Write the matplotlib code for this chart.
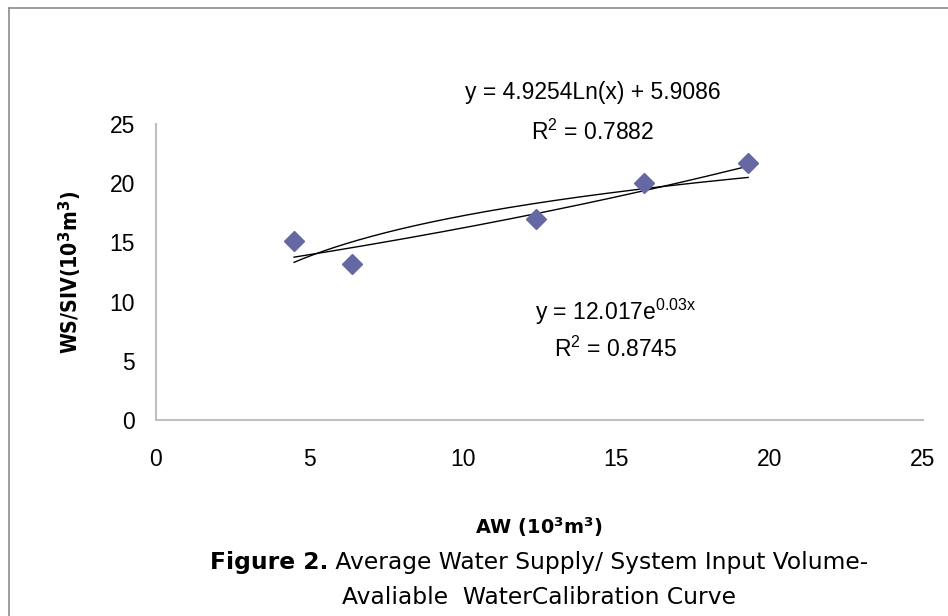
import numpy as np
import matplotlib
matplotlib.use("Agg")
import matplotlib.pyplot as plt
from matplotlib.lines import Line2D

plt.rcParams["mathtext.fontset"] = "custom"
plt.rcParams["mathtext.rm"] = "Liberation Sans"
plt.rcParams["mathtext.it"] = "Liberation Sans"
plt.rcParams["mathtext.bf"] = "DejaVu Sans:bold"

# Data
aw = [4.5, 6.4, 12.4, 15.9, 19.3]
ws_siv = [15.1, 13.2, 16.95, 20.0, 21.7]
x_ticks = [0, 5, 10, 15, 20, 25]
y_ticks = [0, 5, 10, 15, 20, 25]
log_a, log_b = 4.9254, 5.9086
exp_a, exp_b = 12.017, 0.03

W, H = 948, 616
fig = plt.figure(figsize=(W / 100, H / 100), dpi=100)
ax = fig.add_axes([156 / W, 1 - 420 / H, (923 - 156) / W, (420 - 124) / H])

tick_font = "Liberation Sans"
cap_font = "DejaVu Sans"
FS = 16.5

ax.plot(aw, ws_siv, linestyle="none", marker="D", ms=10.5,
        color="#6668A4", zorder=3)

xs = np.linspace(min(aw), max(aw), 200)
ax.plot(xs, log_a * np.log(xs) + log_b, color="black", lw=1.0, zorder=2)
ax.plot(xs, exp_a * np.exp(exp_b * xs), color="black", lw=1.0, zorder=2)

ax.set_xlim(0, 25)
ax.set_ylim(0, 25)
ax.set_xticks(x_ticks)
ax.set_yticks(y_ticks)
ax.tick_params(length=0, labelsize=FS)
ax.tick_params(axis="x", pad=20)
ax.tick_params(axis="y", pad=15)
for lab in ax.get_xticklabels() + ax.get_yticklabels():
    lab.set_fontfamily(tick_font)
for s in ["top", "right"]:
    ax.spines[s].set_visible(False)
for s in ["left", "bottom"]:
    ax.spines[s].set_color("#BFBFBF")
    ax.spines[s].set_linewidth(1.5)

def fx(px):
    return px / W

def fy(py):
    return 1 - py / H

fig.text(fx(593), fy(92), "y = 4.9254Ln(x) + 5.9086", ha="center", va="center",
         fontsize=FS, family=tick_font)
fig.text(fx(593), fy(132), "R$^2$ = 0.7882", ha="center", va="center",
         fontsize=FS, family=tick_font)
fig.text(fx(616), fy(312), "y = 12.017e$^{\\mathrm{0.03x}}$", ha="center", va="center",
         fontsize=FS, family=tick_font)
fig.text(fx(616), fy(349), "R$^2$ = 0.8745", ha="center", va="center",
         fontsize=FS, family=tick_font)

renderer = fig.canvas.get_renderer()

def fit_text(t, target, horizontal=True):
    bb = t.get_window_extent(renderer)
    cur = bb.width if horizontal else bb.height
    t.set_fontsize(t.get_fontsize() * target / cur)

yl = fig.text(fx(70), fy(272), "WS/SIV(10$^\\mathbf{3}$m$^\\mathbf{3}$)", rotation=90,
              ha="center", va="center", fontsize=15, fontweight="bold",
              family=cap_font, fontstretch="condensed")
fit_text(yl, 164, horizontal=False)
xl = fig.text(fx(539), fy(527), "AW (10$^\\mathbf{3}$m$^\\mathbf{3}$)",
              ha="center", va="center", fontsize=14, fontweight="bold",
              family=cap_font)
fit_text(xl, 128)

# caption line 1: bold part + regular part, centred together
CFS = 16.5
tb = fig.text(0, fy(562), "Figure 2.", ha="left", va="center",
              fontsize=CFS, fontweight="bold", family=cap_font)
tr = fig.text(0, fy(562), " Average Water Supply/ System Input Volume-",
              ha="left", va="center", fontsize=CFS, family=cap_font)
l2 = fig.text(fx(539), fy(597), "Avaliable  WaterCalibration Curve",
              ha="center", va="center", fontsize=CFS, family=cap_font)
scale = 392 / l2.get_window_extent(renderer).width
for t in (tb, tr, l2):
    t.set_fontsize(CFS * scale)
wb = tb.get_window_extent(renderer).width
wr = tr.get_window_extent(renderer).width
x0 = 539 - (wb + wr) / 2
tb.set_x(fx(x0))
tr.set_x(fx(x0 + wb))

# outer frame (cut at right/bottom)
fig.add_artist(Line2D([fx(9), fx(9)], [fy(8), 0], color="#8C8C8C", lw=1.2,
                      transform=fig.transFigure))
fig.add_artist(Line2D([fx(9), 1], [fy(8), fy(8)], color="#8C8C8C", lw=1.2,
                      transform=fig.transFigure))

fig.savefig("out.png", dpi=100)
